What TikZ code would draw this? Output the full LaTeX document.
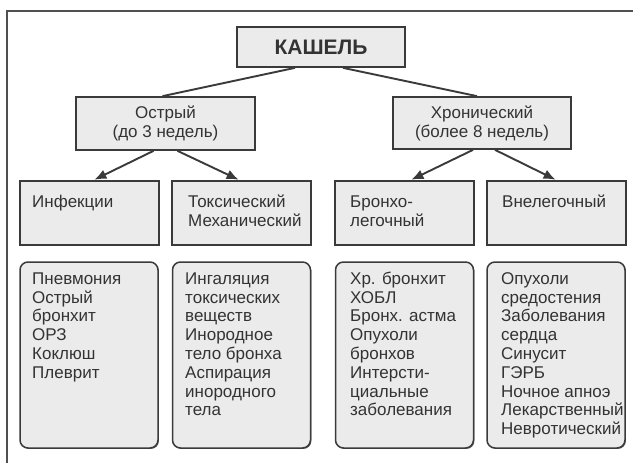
\documentclass[tikz,border=0pt]{standalone}
\usepackage{fontspec}
\setmainfont{Liberation Sans}
\usetikzlibrary{arrows.meta,calc,shadows}
\definecolor{boxfill}{HTML}{EBEBEB}
\definecolor{boxline}{HTML}{3A3A3A}
\definecolor{txtc}{HTML}{333333}
\definecolor{framec}{HTML}{505050}
\begin{document}
\begin{tikzpicture}[x=1pt,y=-1pt,
  sqbox/.style={draw=boxline, fill=boxfill, line width=1.7pt, rectangle, inner sep=0pt},
  rbox/.style={draw=boxline, fill=boxfill, line width=1.5pt, rectangle, rounded corners=8pt, inner sep=0pt,
     drop shadow={shadow xshift=0.9pt, shadow yshift=-0.9pt, fill=boxline, opacity=0.8}},
  txt/.style={anchor=north west, inner sep=0pt, align=left, font=\fontsize{17}{18.8}\selectfont, text=txtc},
  ctxt/.style={align=center, inner sep=0pt, font=\fontsize{17}{19}\selectfont, text=txtc},
  conn/.style={draw=boxline, line width=1.9pt},
  arr/.style={conn, -{Latex[length=12pt,width=10pt]}, shorten >=1pt}]
\useasboundingbox (0,0) rectangle (633,463);
\fill[white] (0,0) rectangle (633,463);
\draw[framec, line width=1.5pt] (7,463) -- (7,11) -- (633,11);

% top
\node[sqbox, minimum width=168pt, minimum height=40pt, font=\fontsize{21}{24}\bfseries, text=txtc] (kashel) at (321,47) {КАШЕЛЬ};
\node[sqbox, minimum width=179pt, minimum height=53pt] (ostr) at (165.5,123.5) {};
\node[sqbox, minimum width=178pt, minimum height=52pt] (hron) at (482,123) {};
\node[ctxt] (ostrt) at (ostr.center) {Острый\\(до 3 недель)};
\node[ctxt] (hront) at (hron.center) {Хронический\\(более 8 недель)};

% middle boxes
\node[sqbox, minimum width=139pt, minimum height=64pt] (inf) at (89.5,213) {};
\node[sqbox, minimum width=139pt, minimum height=64pt] (tox) at (241.5,213) {};
\node[sqbox, minimum width=139pt, minimum height=64pt] (bron) at (404.5,213) {};
\node[sqbox, minimum width=139pt, minimum height=64pt] (vne) at (556.5,213) {};
\node[txt] (inft) at (32,191) {\rule{0pt}{16pt}Инфекции};
\node[txt] (toxt) at (188,191) {\rule{0pt}{16pt}Токсический\\Механический};
\node[txt] (biont) at (350,191) {\rule{0pt}{16pt}Бронхо-\\легочный};
\node[txt] (vnet) at (502,191) {\rule{0pt}{16pt}Внелегочный};

% lower boxes
\node[rbox, minimum width=138pt, minimum height=186pt] (l1) at (89,355) {};
\node[rbox, minimum width=138pt, minimum height=186pt] (l2) at (241.5,355) {};
\node[rbox, minimum width=138pt, minimum height=186pt] (l3) at (404.5,355) {};
\node[rbox, minimum width=138pt, minimum height=186pt] (l4) at (556,355) {};
\node[txt] (l1t) at (32,268) {\rule{0pt}{16pt}Пневмония\\Острый\\бронхит\\ОРЗ\\Коклюш\\Плеврит};
\node[txt] (l2t) at (185,268) {\rule{0pt}{16pt}Ингаляция\\токсических\\веществ\\Инородное\\тело бронха\\Аспирация\\инородного\\тела};
\node[txt] (l3t) at (350,268) {\rule{0pt}{16pt}Хр. бронхит\\ХОБЛ\\Бронх. астма\\Опухоли\\бронхов\\Интерсти-\\циальные\\заболевания};
\node[txt] (l4t) at (501,268) {\rule{0pt}{16pt}Опухоли\\средостения\\Заболевания\\сердца\\Синусит\\ГЭРБ\\Ночное апноэ\\Лекарственный\\Невротический};

% connectors
\draw[conn] ($(kashel.south)+(-26,0)$) -- ($(ostr.north)+(-3,0)$);
\draw[conn] ($(kashel.south)+(22,0)$) -- ($(hron.north)+(-5,0)$);
\draw[arr] ($(ostr.south)+(-12,0)$) -- ($(inf.north)+(4,0)$);
\draw[arr] ($(ostr.south)+(12,0)$) -- ($(tox.north)+(-2,0)$);
\draw[arr] ($(hron.south)+(-9,0)$) -- ($(bron.north)+(6,0)$);
\draw[arr] ($(hron.south)+(13,0)$) -- ($(vne.north)+(0,0)$);
\end{tikzpicture}
\end{document}
